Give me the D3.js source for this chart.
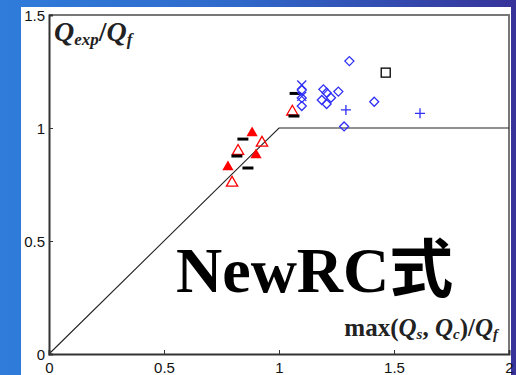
<!DOCTYPE html>
<html>
<head>
<meta charset="utf-8">
<script src="https://cdn.jsdelivr.net/npm/d3@7"></script>
<style>
  body { margin: 0; }
  svg { display: block; }
</style>
</head>
<body>
<div id="chart"></div>
<script>
// values
var filledTriX = [0.883, 0.900, 0.778];
var filledTriY = [0.978, 0.881, 0.827];
var openTriX = [0.926, 0.822, 0.796, 1.058];
var openTriY = [0.934, 0.898, 0.757, 1.072];
var dashX = [0.843, 0.817, 0.865, 1.070, 1.065];
var dashY = [0.951, 0.876, 0.823, 1.153, 1.053];
var diamondX = [1.099, 1.099, 1.099, 1.193, 1.207, 1.226, 1.258, 1.186, 1.207, 1.306, 1.414, 1.283];
var diamondY = [1.168, 1.133, 1.097, 1.171, 1.156, 1.134, 1.161, 1.124, 1.106, 1.296, 1.116, 1.007];
var crossX = [1.099, 1.099];
var crossY = [1.190, 1.140];
var plusX = [1.291, 1.613];
var plusY = [1.080, 1.065];
var squareX = [1.464];
var squareY = [1.245];
var lineX = [0, 1, 2];
var lineY = [0, 1, 1];
var xTicks = [0, 0.5, 1, 1.5, 2];
var yTicks = [0, 0.5, 1, 1.5];

var W = 516, H = 375;
var margin = {top: 15, right: 7, bottom: 21, left: 49},
    width = W - margin.left - margin.right,
    height = H - margin.top - margin.bottom;

var svg = d3.select("#chart").append("svg")
    .attr("width", W)
    .attr("height", H);

var grad = svg.append("defs").append("linearGradient")
    .attr("id", "bg")
    .attr("x1", "0%").attr("x2", "100%").attr("y1", "0%").attr("y2", "0%");
grad.append("stop").attr("offset", "0%").attr("stop-color", "#2f7cda");
grad.append("stop").attr("offset", "45%").attr("stop-color", "#2f6acb");
grad.append("stop").attr("offset", "100%").attr("stop-color", "#37339a");

svg.append("rect").attr("width", W).attr("height", H).attr("fill", "url(#bg)");
svg.append("rect")
    .attr("x", 21).attr("y", 7)
    .attr("width", 490).attr("height", H - 7)
    .attr("fill", "#fff");

var g = svg.append("g")
    .attr("transform", "translate(" + margin.left + "," + margin.top + ")");

var x = d3.scaleLinear().domain([0, 2]).range([0, width]);
var y = d3.scaleLinear().domain([0, 1.5]).range([height, 0]);

// frame top / right
g.append("path")
    .attr("d", "M0,0H" + width + "V" + height)
    .attr("fill", "none")
    .attr("stroke", "#777")
    .attr("stroke-width", 2);

// reference line
var line = d3.line()
    .x(function(d, i) { return x(lineX[i]); })
    .y(function(d, i) { return y(lineY[i]); });
g.append("path")
    .datum(lineX)
    .attr("d", line)
    .attr("fill", "none")
    .attr("stroke", "#222")
    .attr("stroke-width", 1.1);

var xAxis = g.append("g")
    .attr("transform", "translate(0," + height + ")")
    .call(d3.axisBottom(x).tickValues(xTicks).tickSize(-4).tickPadding(8).tickFormat(d3.format("")));
var yAxis = g.append("g")
    .call(d3.axisLeft(y).tickValues(yTicks).tickSize(-4).tickPadding(4).tickFormat(d3.format("")));

[xAxis, yAxis].forEach(function(a) {
  a.select(".domain").attr("stroke", "#333").attr("stroke-width", 2);
  a.selectAll(".tick line").attr("stroke", "#333");
  a.selectAll(".tick text")
      .attr("fill", "#111")
      .style("font-family", "'Liberation Sans', Arial, sans-serif")
      .style("font-size", "15px");
});
yAxis.selectAll(".tick text").attr("dy", "0.36em");

function pts(xs, ys) {
  return xs.map(function(v, i) { return [x(v), y(ys[i])]; });
}

var tri = d3.symbol().type(d3.symbolTriangle).size(55);

g.selectAll(".ftri")
    .data(pts(filledTriX, filledTriY))
  .enter().append("path")
    .attr("d", tri)
    .attr("transform", function(d) { return "translate(" + d + ")"; })
    .attr("fill", "#f00");

g.selectAll(".otri")
    .data(pts(openTriX, openTriY))
  .enter().append("path")
    .attr("d", tri)
    .attr("transform", function(d) { return "translate(" + d + ")"; })
    .attr("fill", "none")
    .attr("stroke", "#f00")
    .attr("stroke-width", 1.3);

g.selectAll(".dash")
    .data(pts(dashX, dashY))
  .enter().append("path")
    .attr("d", function(d) { return "M" + (d[0] - 5.5) + "," + d[1] + "h11"; })
    .attr("stroke", "#000")
    .attr("stroke-width", 3);

g.selectAll(".dia")
    .data(pts(diamondX, diamondY))
  .enter().append("path")
    .attr("d", function(d) { return "M" + d[0] + "," + (d[1] - 4.5) + "l4.5,4.5l-4.5,4.5l-4.5,-4.5z"; })
    .attr("fill", "none")
    .attr("stroke", "#2f2ff5")
    .attr("stroke-width", 1.3);

g.selectAll(".xmark")
    .data(pts(crossX, crossY))
  .enter().append("path")
    .attr("d", function(d) {
      return "M" + (d[0] - 4.5) + "," + (d[1] - 4.5) + "l9,9M" + (d[0] + 4.5) + "," + (d[1] - 4.5) + "l-9,9";
    })
    .attr("stroke", "#2f2ff5")
    .attr("stroke-width", 1.3);

g.selectAll(".plus")
    .data(pts(plusX, plusY))
  .enter().append("path")
    .attr("d", function(d) {
      return "M" + (d[0] - 5) + "," + d[1] + "h10M" + d[0] + "," + (d[1] - 5) + "v10";
    })
    .attr("stroke", "#2f2ff5")
    .attr("stroke-width", 1.3);

g.selectAll(".sq")
    .data(pts(squareX, squareY))
  .enter().append("rect")
    .attr("x", function(d) { return d[0] - 4.5; })
    .attr("y", function(d) { return d[1] - 4.5; })
    .attr("width", 9).attr("height", 9)
    .attr("fill", "none")
    .attr("stroke", "#000")
    .attr("stroke-width", 1.3);

// axis titles
var serif = "'Liberation Serif', 'Times New Roman', serif";

var yt = svg.append("text")
    .attr("x", 54).attr("y", 41)
    .style("font-family", serif)
    .style("font-weight", "bold")
    .style("font-style", "italic")
    .style("font-size", "28px")
    .attr("fill", "#222");
yt.append("tspan").text("Q");
yt.append("tspan").attr("dy", 4).style("font-size", "17px").text("exp");
yt.append("tspan").attr("dy", -4).style("font-style", "normal").text("/");
yt.append("tspan").text("Q");
yt.append("tspan").attr("dy", 4).style("font-size", "17px").text("f");

var xt = svg.append("text")
    .attr("x", 498).attr("y", 336)
    .attr("text-anchor", "end")
    .style("font-family", serif)
    .style("font-weight", "bold")
    .style("font-size", "25px")
    .attr("fill", "#222");
xt.append("tspan").text("max(");
xt.append("tspan").style("font-style", "italic").text("Q");
xt.append("tspan").attr("dy", 3).style("font-size", "15px").style("font-style", "italic").text("s");
xt.append("tspan").attr("dy", -3).text(", ");
xt.append("tspan").style("font-style", "italic").text("Q");
xt.append("tspan").attr("dy", 3).style("font-size", "15px").style("font-style", "italic").text("c");
xt.append("tspan").attr("dy", -3).text(")/");
xt.append("tspan").style("font-style", "italic").text("Q");
xt.append("tspan").attr("dy", 3).style("font-size", "15px").style("font-style", "italic").text("f");

var big = svg.append("text")
    .attr("x", 176).attr("y", 292)
    .style("font-family", serif)
    .style("font-weight", "bold")
    .style("font-size", "64px")
    .attr("fill", "#000");
big.append("tspan").text("NewRC");
big.append("tspan").style("font-family", "'Noto Sans CJK JP', sans-serif").text("式");
</script>
</body>
</html>
